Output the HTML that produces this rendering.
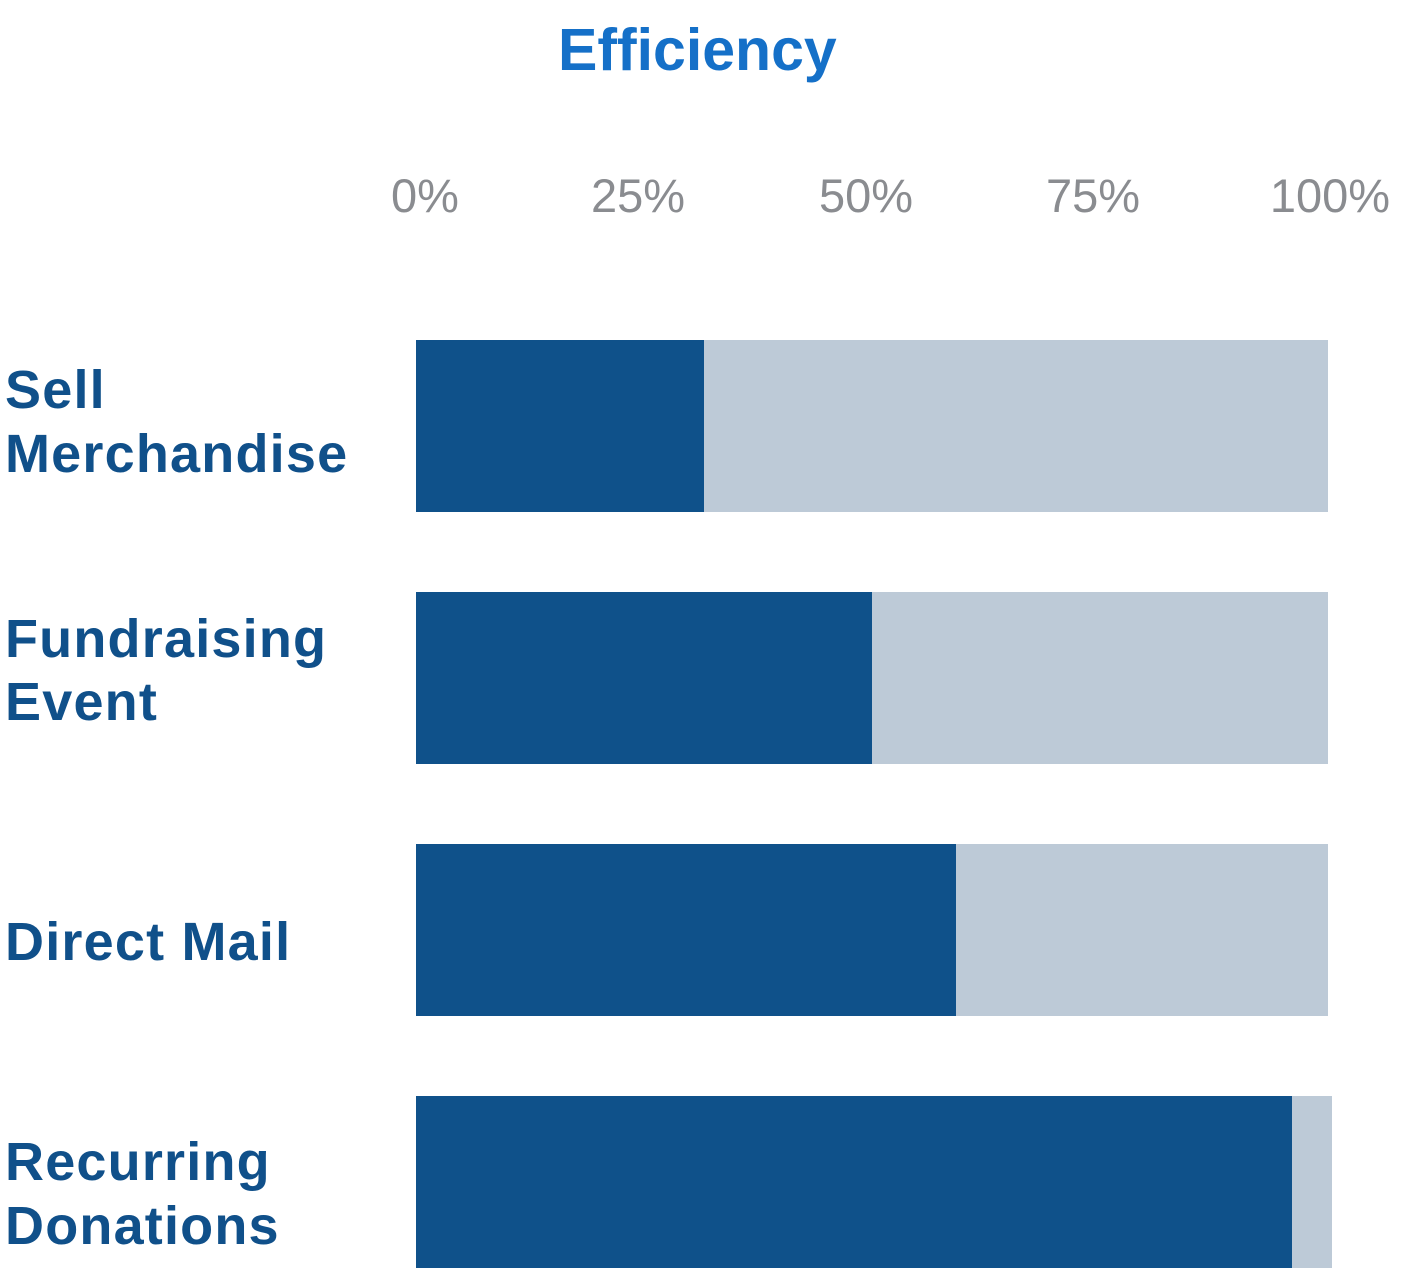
<!DOCTYPE html>
<html>
<head>
<meta charset="utf-8">
<style>
  html, body { margin:0; padding:0; background:#ffffff; }
  body { width:1420px; height:1270px; overflow:hidden; }
  svg { display:block; }
  .lbl { font-family:"Liberation Sans", sans-serif; font-weight:bold; font-size:54px; fill:#10508a; letter-spacing:1.2px; }
  .tick { font-family:"Liberation Sans", sans-serif; font-size:47px; fill:#8a8c90; text-anchor:middle; }
  .title { font-family:"Liberation Sans", sans-serif; font-weight:bold; font-size:59px; fill:#1570c8; }
</style>
</head>
<body>
<svg width="1420" height="1270" viewBox="0 0 1420 1270" xmlns="http://www.w3.org/2000/svg">
  <text class="title" x="558" y="70">Efficiency</text>

  <text class="tick" x="425" y="212">0%</text>
  <text class="tick" x="638" y="212">25%</text>
  <text class="tick" x="866" y="212">50%</text>
  <text class="tick" x="1093" y="212">75%</text>
  <text class="tick" x="1330" y="212">100%</text>

  <!-- bars -->
  <rect x="416" y="340" width="912" height="172" fill="#bdcad7"/>
  <rect x="416" y="340" width="288" height="172" fill="#0f518a"/>

  <rect x="416" y="592" width="912" height="172" fill="#bdcad7"/>
  <rect x="416" y="592" width="456" height="172" fill="#0f518a"/>

  <rect x="416" y="844" width="912" height="172" fill="#bdcad7"/>
  <rect x="416" y="844" width="540" height="172" fill="#0f518a"/>

  <rect x="416" y="1096" width="916" height="172" fill="#bdcad7"/>
  <rect x="416" y="1096" width="876" height="172" fill="#0f518a"/>

  <!-- labels -->
  <text class="lbl" x="5" y="408">Sell</text>
  <text class="lbl" x="5" y="472">Merchandise</text>

  <text class="lbl" x="5" y="657">Fundraising</text>
  <text class="lbl" x="5" y="720">Event</text>

  <text class="lbl" x="5" y="960">Direct Mail</text>

  <text class="lbl" x="5" y="1180">Recurring</text>
  <text class="lbl" x="5" y="1244">Donations</text>
</svg>
</body>
</html>
